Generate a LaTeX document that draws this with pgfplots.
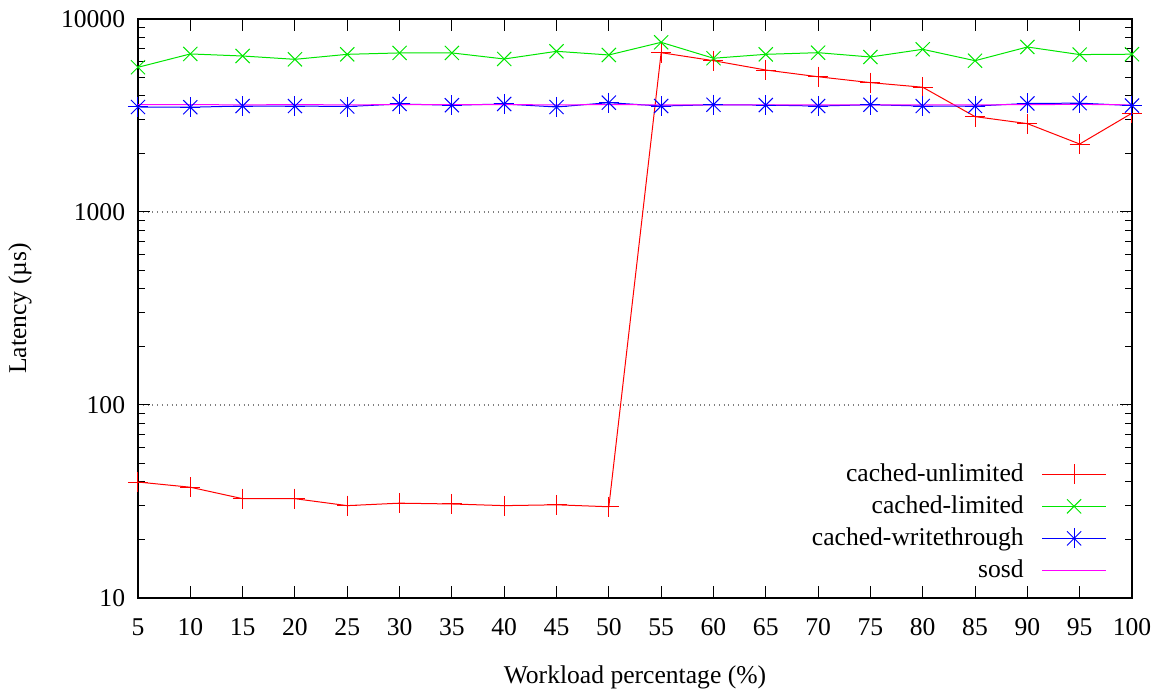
\documentclass[border=0pt]{standalone}
\usepackage{fontspec}
\setmainfont{Liberation Serif}
\usepackage{pgfplots}
\pgfplotsset{compat=1.18}
\definecolor{gred}{RGB}{255,0,0}
\definecolor{ggreen}{RGB}{0,230,0}
\definecolor{gblue}{RGB}{0,0,255}
\definecolor{gmag}{RGB}{255,0,255}
\pgfdeclareplotmark{ast8}{\pgfuseplotmark{+}\pgfuseplotmark{x}}
\begin{document}
\fontsize{12.8}{15}\selectfont
\begin{tikzpicture}
\useasboundingbox (-69pt,-46pt) rectangle (509.5pt,299pt);
\begin{axis}[
  at={(0,0)}, anchor=south west,
  scale only axis, width=497pt, height=289.5pt,
  ymode=log, ymin=10, ymax=10000,
  xmin=5, xmax=100,
  xtick={5,10,...,100},
  ytick={10,100,1000,10000},
  yticklabels={10,100,1000,10000},
  /pgf/number format/assume math mode=true,
  tick label style={font=\fontsize{12.8}{15}\selectfont},
  label style={font=\fontsize{12.8}{15}\selectfont},
  xticklabel style={yshift=-6pt},
  yticklabel style={xshift=-2pt},
  major tick length=6pt, minor tick length=3.5pt,
  tick style={black, line width=0.5pt},
  axis line style={black, line width=0.6pt},
  ymajorgrids, major grid style={dotted, gray, line width=0.6pt},
  xlabel={Workload percentage (\%)},
  ylabel={Latency (µs)},
  xlabel style={at={(axis description cs:0.5,-0.1364)}, anchor=center},
  ylabel style={at={(axis description cs:-0.1187,0.5)}, anchor=center, rotate=0},
  legend style={at={(axis cs:97.6,11.6)}, anchor=south east, draw=none, fill=none,
    font=\fontsize{12.8}{15}\selectfont, row sep=1.2pt, inner sep=0pt,
    column sep=7pt},
  legend cell align=right,
  legend plot pos=right,
  legend image code/.code={\draw[mark repeat=2,mark phase=2] plot coordinates {(0cm,0cm)(0.56cm,0cm)(1.12cm,0cm)};},
]
\addplot[gred, line width=0.5pt, mark=+, mark size=5pt] coordinates {
(5,39.9)(10,37.5)(15,32.7)(20,32.7)(25,30.1)(30,31.0)(35,30.7)(40,30.1)(45,30.4)(50,29.7)
(55,6690)(60,6080)(65,5440)(70,5020)(75,4680)(80,4430)(85,3120)(90,2870)(95,2250)(100,3250)};
\addlegendentry{cached-unlimited}
\addplot[ggreen, line width=0.5pt, mark=x, mark size=5pt] coordinates {
(5,5620)(10,6590)(15,6430)(20,6180)(25,6560)(30,6670)(35,6670)(40,6205)(45,6800)(50,6510)
(55,7570)(60,6260)(65,6560)(70,6690)(75,6355)(80,6965)(85,6080)(90,7160)(95,6540)(100,6570)};
\addlegendentry{cached-limited}
\addplot[gblue, line width=0.5pt, mark=ast8, mark size=5pt] coordinates {
(5,3500)(10,3490)(15,3540)(20,3540)(25,3520)(30,3627)(35,3575)(40,3627)(45,3500)(50,3685)
(55,3540)(60,3595)(65,3580)(70,3540)(75,3595)(80,3540)(85,3540)(90,3650)(95,3665)(100,3560)};
\addlegendentry{cached-writethrough}
\addplot[gmag, line width=0.5pt, no marks] coordinates {
(5,3600)(10,3600)(15,3590)(20,3600)(25,3590)(30,3600)(35,3600)(40,3600)(45,3590)(50,3600)
(55,3590)(60,3590)(65,3590)(70,3590)(75,3590)(80,3590)(85,3590)(90,3600)(95,3610)(100,3590)};
\addlegendentry{sosd}
\end{axis}
\end{tikzpicture}
\end{document}
